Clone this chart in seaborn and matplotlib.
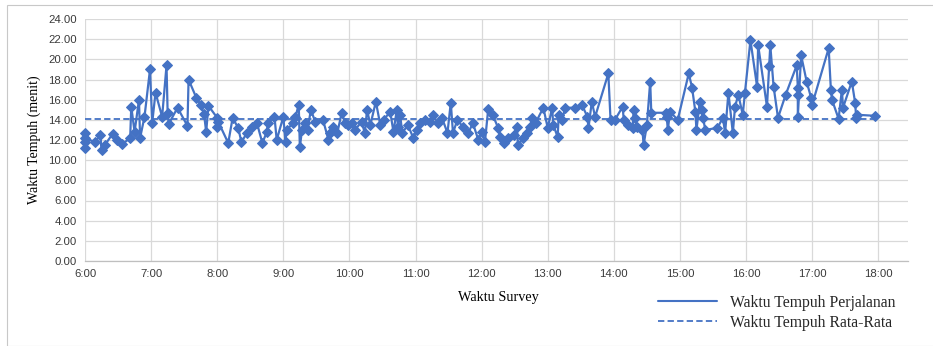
import matplotlib
matplotlib.use("Agg")
import matplotlib.pyplot as plt
from matplotlib.lines import Line2D
from matplotlib.patches import Rectangle
from matplotlib.ticker import FuncFormatter, MultipleLocator
import seaborn as sns
import pandas as pd

# ---- data ----
survey_times = [
    "6:00", "6:00", "6:00", "6:00", "6:09", "6:14", "6:15", "6:18", "6:25", "6:29",
    "6:34", "6:41", "6:42", "6:45", "6:49", "6:50", "6:54", "6:59", "7:01", "7:04",
    "7:10", "7:14", "7:15", "7:16", "7:24", "7:33", "7:34", "7:41", "7:45", "7:48",
    "7:50", "7:52", "8:00", "8:00", "8:01", "8:10", "8:14", "8:19", "8:22", "8:27",
    "8:32", "8:36", "8:41", "8:45", "8:46", "8:52", "8:54", "9:00", "9:02", "9:03",
    "9:09", "9:11", "9:14", "9:15", "9:17", "9:20", "9:22", "9:25", "9:29", "9:36",
    "9:41", "9:42", "9:45", "9:49", "9:53", "9:56", "9:59", "10:02", "10:05", "10:11",
    "10:14", "10:16", "10:19", "10:24", "10:28", "10:31", "10:37", "10:40", "10:43", "10:44",
    "10:46", "10:48", "10:53", "10:58", "11:01", "11:04", "11:09", "11:13", "11:16", "11:20",
    "11:24", "11:29", "11:32", "11:34", "11:38", "11:43", "11:48", "11:52", "11:57", "12:00",
    "12:03", "12:06", "12:10", "12:15", "12:17", "12:20", "12:24", "12:29", "12:32", "12:33",
    "12:38", "12:41", "12:44", "12:46", "12:49", "12:56", "13:00", "13:04", "13:05", "13:09",
    "13:10", "13:13", "13:16", "13:25", "13:31", "13:36", "13:37", "13:40", "13:43", "13:55",
    "13:57", "14:01", "14:08", "14:09", "14:13", "14:17", "14:18", "14:19", "14:21", "14:26",
    "14:27", "14:30", "14:33", "14:34", "14:47", "14:48", "14:49", "14:51", "14:58", "15:08",
    "15:11", "15:14", "15:15", "15:18", "15:20", "15:21", "15:23", "15:34", "15:39", "15:41",
    "15:44", "15:48", "15:50", "15:53", "15:57", "15:59", "16:04", "16:10", "16:11", "16:19",
    "16:21", "16:22", "16:25", "16:29", "16:36", "16:46", "16:47", "16:47", "16:47", "16:50",
    "16:55", "16:59", "17:00", "17:15", "17:17", "17:18", "17:24", "17:27", "17:28", "17:36",
    "17:39", "17:40", "17:41", "17:57",
]
travel_time = [
    12.7, 11.2, 11.8, 12.2, 11.8, 12.5, 11.0, 11.5, 12.6, 12.0,
    11.6, 12.2, 15.3, 12.8, 16.0, 12.2, 14.3, 19.0, 13.7, 16.7,
    14.3, 19.4, 14.7, 13.6, 15.2, 13.4, 18.0, 16.2, 15.5, 14.6,
    12.8, 15.4, 14.2, 13.3, 13.8, 11.7, 14.2, 13.2, 11.8, 12.7,
    13.3, 13.7, 11.7, 12.8, 13.7, 14.3, 12.0, 14.3, 11.8, 13.0,
    13.7, 14.3, 15.5, 11.3, 13.0, 13.7, 13.0, 15.0, 13.8, 14.0,
    12.0, 12.7, 13.3, 12.7, 14.7, 13.7, 13.5, 13.7, 13.0, 13.8,
    12.7, 15.0, 13.5, 15.8, 13.5, 14.0, 14.8, 12.8, 15.0, 13.3,
    14.5, 12.7, 13.5, 12.2, 13.0, 13.7, 14.0, 13.8, 14.5, 13.7,
    14.2, 12.7, 15.7, 12.7, 14.0, 13.3, 12.7, 13.7, 12.0, 12.8,
    11.8, 15.1, 14.5, 13.2, 12.3, 11.7, 12.2, 12.5, 13.3, 11.5,
    12.2, 12.7, 13.3, 14.2, 13.7, 15.2, 13.2, 15.2, 13.5, 12.3,
    14.5, 14.0, 15.2, 15.2, 15.5, 14.3, 13.2, 15.8, 14.3, 18.6,
    14.0, 14.0, 15.3, 14.0, 13.5, 13.2, 15.0, 14.2, 13.3, 13.0,
    11.5, 13.5, 17.8, 14.7, 14.7, 14.3, 13.0, 14.8, 14.0, 18.6,
    17.2, 14.8, 13.0, 15.8, 15.0, 14.2, 13.0, 13.2, 14.2, 12.7,
    16.7, 12.7, 15.3, 16.5, 14.5, 16.7, 21.9, 17.3, 21.4, 15.3,
    19.3, 21.4, 17.3, 14.2, 16.5, 19.4, 17.2, 16.5, 14.3, 20.4,
    17.8, 16.2, 15.5, 21.1, 17.0, 16.0, 14.1, 17.0, 15.2, 17.8,
    15.7, 14.2, 14.5, 14.4,
]
avg_time = 14.12
avg_span = ["6:00", "18:00"]
hour_ticks = list(range(6, 19))

series_labels = ["Waktu Tempuh Perjalanan", "Waktu Tempuh Rata-Rata"]


def to_hours(s):
    h, m = s.split(":")
    return int(h) + int(m) / 60.0


df = pd.DataFrame({"jam": [to_hours(t) for t in survey_times], "waktu": travel_time})
df_avg = pd.DataFrame({"jam": [to_hours(t) for t in avg_span], "waktu": [avg_time] * 2})

# ---- plot ----
sns.set_theme(style="white")
color = "#4472C4"

fig = plt.figure(figsize=(9.33, 3.46), dpi=100)
W, H = 933, 346
ax = fig.add_axes([85 / W, 1 - 261 / H, (908 - 85) / W, (261 - 19) / H])

sns.lineplot(data=df, x="jam", y="waktu", ax=ax, sort=False, estimator=None,
             color=color, linewidth=1.6, marker="D", markersize=5.6,
             markeredgecolor=color, markerfacecolor=color, zorder=3, clip_on=False)
sns.lineplot(data=df_avg, x="jam", y="waktu", ax=ax, sort=False, estimator=None,
             color=color, linewidth=1.3, dashes=False, zorder=2)
ax.lines[-1].set_dashes([3.5, 1.8])

ax.set_xlim(6, 18.45)
ax.set_ylim(0, 24)
ax.set_xticks(hour_ticks)
ax.xaxis.set_major_formatter(FuncFormatter(lambda v, p: f"{int(round(v))}:00"))
ax.yaxis.set_major_locator(MultipleLocator(2))
ax.yaxis.set_major_formatter(FuncFormatter(lambda v, p: f"{v:.2f}"))
ax.grid(True, color="#d9d9d9", linewidth=0.9)
ax.set_axisbelow(True)
for s in ["top", "right", "left"]:
    ax.spines[s].set_visible(False)
ax.spines["bottom"].set_color("#bfbfbf")
ax.spines["bottom"].set_linewidth(0.9)

tick_family = ["Liberation Sans", "DejaVu Sans"]
ax.tick_params(axis="both", length=0, pad=6, colors="#404040")
for lab in ax.get_xticklabels() + ax.get_yticklabels():
    lab.set_fontfamily(tick_family)
    lab.set_fontsize(8.2)
    lab.set_color("#3a3a3a")

serif = ["Liberation Serif", "DejaVu Serif"]
ax.set_xlabel("")
ax.set_ylabel("")
fig.text(498 / W, 1 - 297 / H, "Waktu Survey", ha="center", va="center",
         fontfamily=serif, fontsize=10.3, color="#000000")
fig.text(34 / W, 1 - 140 / H, "Waktu Tempuh (menit)", ha="center", va="center",
         rotation=90, fontfamily=serif, fontsize=10.0, color="#000000")

handles = [Line2D([0], [0], color=color, linewidth=1.5),
           Line2D([0], [0], color=color, linewidth=1.3, dashes=[3.5, 1.8])]
leg = fig.legend(handles, series_labels, loc="upper left",
                 bbox_to_anchor=(645 / W, 1 - 282 / H), frameon=False,
                 prop={"family": serif, "size": 11.3}, handlelength=3.8,
                 handletextpad=0.8, labelspacing=0.28, borderpad=0.3)

fig.patches.append(Rectangle((7 / W, 0), 1.0, 1 - 5 / H, transform=fig.transFigure,
                             fill=False, edgecolor="#c8c8c8", linewidth=0.8))

fig.savefig("out.png", dpi=100, facecolor="white")
